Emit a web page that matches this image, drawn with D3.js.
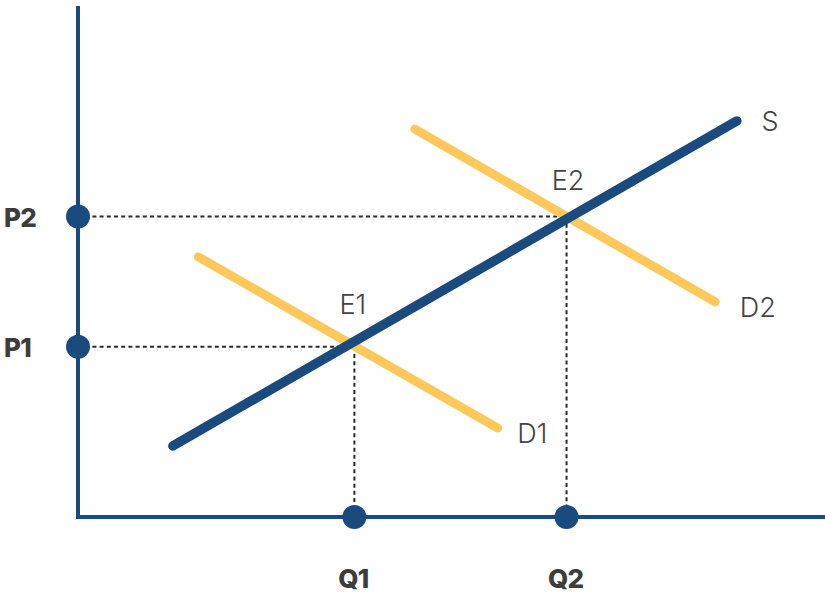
<!DOCTYPE html>
<html>
<head>
<meta charset="utf-8">
<script src="https://cdn.jsdelivr.net/npm/d3@7"></script>
<style>
  html, body { margin: 0; padding: 0; background: #ffffff; }
  svg { display: block; }
</style>
</head>
<body>
<svg id="chart" width="825" height="594"></svg>
<script>
// Supply & demand shift: quantity (x) and price (y) on a 0–100 scale
const supply = [[12.7, 13.9], [88.2, 77.5]];
const demand1 = [[16.1, 50.9], [56.2, 17.4]];
const demand2 = [[45.1, 75.9], [85.3, 42.1]];

const curveLabels = [
  { text: "S",  x: 91.5, y: 75.6 },
  { text: "D1", x: 58.8, y: 14.5 },
  { text: "D2", x: 88.6, y: 39.2 }
];
const equilibria = [
  { text: "E1", x: 36.8, y: 39.7 },
  { text: "E2", x: 65.6, y: 64.0 }
];
const quantities = [{ label: "Q1", value: 37.0 }, { label: "Q2", value: 65.4 }];
const prices = [{ label: "P1", value: 33.3 }, { label: "P2", value: 58.8 }];

const svg = d3.select("#chart");

const x = d3.scaleLinear().domain([0, 100]).range([78, 825]);
const y = d3.scaleLinear().domain([0, 100]).range([517, 6]);

const navy = "#1b4a7e";
const gold = "#fec85a";
const textGray = "#3d3d3d";
const lineGen = d3.line().x(d => x(d[0])).y(d => y(d[1]));

// Guide lines from equilibria to the axes
const guides = svg.append("g")
  .attr("stroke", "#2a2a2a")
  .attr("stroke-width", 2)
  .attr("stroke-dasharray", "4,3.2")
  .attr("fill", "none");
prices.forEach((p, i) => {
  guides.append("line")
    .attr("x1", x(0)).attr("x2", x(quantities[i].value))
    .attr("y1", y(p.value)).attr("y2", y(p.value));
  guides.append("line")
    .attr("x1", x(quantities[i].value)).attr("x2", x(quantities[i].value))
    .attr("y1", y(p.value)).attr("y2", y(0));
});

// Axes
svg.append("line")
  .attr("x1", x(0)).attr("x2", x(0))
  .attr("y1", y(100)).attr("y2", y(0) + 2)
  .attr("stroke", navy).attr("stroke-width", 4);
svg.append("line")
  .attr("x1", x(0) - 2).attr("x2", x(100))
  .attr("y1", y(0)).attr("y2", y(0))
  .attr("stroke", navy).attr("stroke-width", 4);

// Demand curves
[demand1, demand2].forEach(d => {
  svg.append("path")
    .attr("d", lineGen(d))
    .attr("stroke", gold)
    .attr("stroke-width", 9)
    .attr("stroke-linecap", "round")
    .attr("fill", "none");
});

// Supply curve
svg.append("path")
  .attr("d", lineGen(supply))
  .attr("stroke", navy)
  .attr("stroke-width", 9.5)
  .attr("stroke-linecap", "round")
  .attr("fill", "none");

// Axis markers
svg.selectAll("circle.q").data(quantities).join("circle")
  .attr("class", "q")
  .attr("cx", d => x(d.value)).attr("cy", y(0)).attr("r", 12)
  .attr("fill", navy);
svg.selectAll("circle.p").data(prices).join("circle")
  .attr("class", "p")
  .attr("cx", x(0)).attr("cy", d => y(d.value)).attr("r", 12)
  .attr("fill", navy);

// Axis labels
const boldFont = sel => sel
  .attr("font-family", "Inter, 'Open Sans', sans-serif")
  .attr("font-weight", 800)
  .attr("font-size", 26)
  .attr("letter-spacing", -0.8)
  .attr("fill", textGray);

svg.selectAll("text.q").data(quantities).join("text")
  .attr("class", "q")
  .attr("x", d => x(d.value) - 1).attr("y", 588)
  .attr("text-anchor", "middle")
  .call(boldFont)
  .text(d => d.label);
svg.selectAll("text.p").data(prices).join("text")
  .attr("class", "p")
  .attr("x", 4).attr("y", d => y(d.value) + 10)
  .attr("text-anchor", "start")
  .call(boldFont)
  .text(d => d.label);

// Curve and equilibrium labels
const plainFont = sel => sel
  .attr("font-family", "Inter, 'Open Sans', sans-serif")
  .attr("font-weight", 300)
  .attr("font-size", 27)
  .attr("fill", "#444444");

svg.selectAll("text.curve").data(curveLabels).join("text")
  .attr("class", "curve")
  .attr("x", d => x(d.x)).attr("y", d => y(d.y))
  .call(plainFont)
  .text(d => d.text);
svg.selectAll("text.eq").data(equilibria).join("text")
  .attr("class", "eq")
  .attr("x", d => x(d.x)).attr("y", d => y(d.y))
  .attr("text-anchor", "middle")
  .call(plainFont)
  .text(d => d.text);
</script>
</body>
</html>
